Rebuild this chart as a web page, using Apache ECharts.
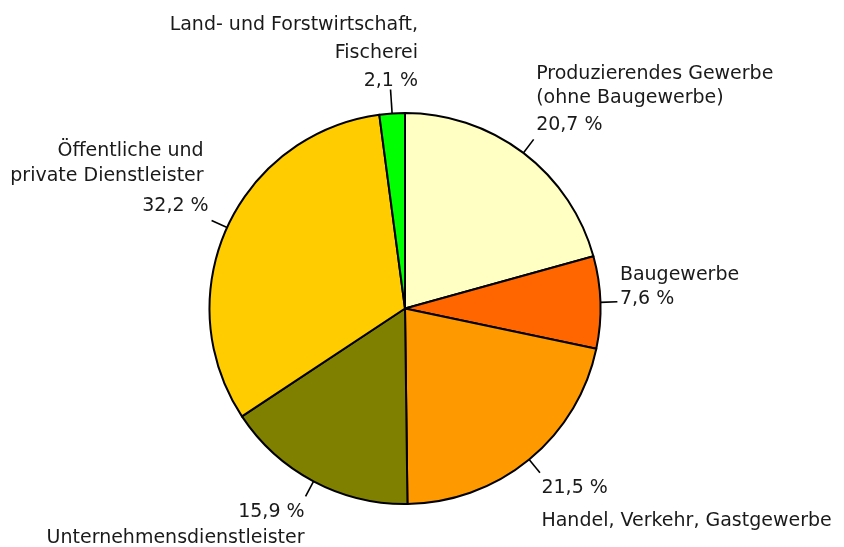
<!DOCTYPE html>
<html><head><meta charset="utf-8">
<script src="https://cdn.jsdelivr.net/npm/echarts@6/dist/echarts.min.js"></script>
<style>html,body{margin:0;padding:0;background:#fff}#c{width:844px;height:547px}</style>
</head><body><div id="c"></div>
<script>
// ---- data ----
const sectors = [
  'Produzierendes Gewerbe\n(ohne Baugewerbe)',
  'Baugewerbe',
  'Handel, Verkehr, Gastgewerbe',
  'Unternehmensdienstleister',
  'Öffentliche und\nprivate Dienstleister',
  'Land- und Forstwirtschaft,\nFischerei'
];
const shares = [20.7, 7.6, 21.5, 15.9, 32.2, 2.1];

// ---- styles ----
const colors = ['#FFFFC4', '#FF6600', '#FF9900', '#808000', '#FFCC00', '#00FF00'];
const labelStyles = [
  {align: 'left',  vAlign: 'bottom', dx: 2.5,  dy: 0, nameLH: 24, pctLH: 29, pctFirst: false, line: 17, namePad: 0},
  {align: 'left',  vAlign: 'bottom', dx: 2.5,  dy: 9, nameLH: 24, pctLH: 24, pctFirst: false, line: 17, namePad: 0},
  {align: 'left',  vAlign: 'top',    dx: 1.5,  dy: 3, nameLH: 42, pctLH: 24, pctFirst: true,  line: 17, namePad: 0},
  {align: 'right', vAlign: 'top',    dx: -1,   dy: 4, nameLH: 28, pctLH: 24, pctFirst: true,  line: 17, namePad: 0},
  {align: 'right', vAlign: 'bottom', dx: -3,   dy: 4, nameLH: 25, pctLH: 36, pctFirst: false, line: 17, namePad: 5},
  {align: 'right', vAlign: 'bottom', dx: 27.5, dy: 6, nameLH: 28, pctLH: 28, pctFirst: false, line: 24, namePad: 0}
];
const FONT = 'DejaVu Sans';
const TEXT = '#1a1a1a';

function fmtPct(v) { return v.toFixed(1).replace('.', ',') + ' %'; }

const data = sectors.map((name, i) => {
  const s = labelStyles[i];
  return {
    name: name,
    value: shares[i],
    itemStyle: {color: colors[i]},
    labelLine: {length: s.line},
    label: {
      rich: {
        n: {fontFamily: FONT, fontSize: 19, color: TEXT, lineHeight: s.nameLH, padding: [0, s.namePad, 0, 0]},
        p: {fontFamily: FONT, fontSize: 19, color: TEXT, lineHeight: s.pctLH}
      }
    }
  };
});

const chart = echarts.init(document.getElementById('c'), null, {renderer: 'canvas'});
chart.setOption({
  backgroundColor: '#ffffff',
  animation: false,
  series: [{
    type: 'pie',
    center: [405, 308.5],
    radius: [0, 195.5],
    startAngle: 90,
    clockwise: true,
    avoidLabelOverlap: false,
    data: data,
    itemStyle: {borderColor: '#000', borderWidth: 2},
    emphasis: {disabled: true},
    label: {
      show: true,
      position: 'outside',
      alignTo: 'none',
      overflow: 'none',
      fontFamily: FONT,
      fontSize: 19,
      color: TEXT,
      formatter: function (p) {
        const s = labelStyles[p.dataIndex];
        const nameLines = p.name.split('\n').map(t => '{n|' + t + '}');
        const pct = '{p|' + fmtPct(p.value) + '}';
        return (s.pctFirst ? [pct].concat(nameLines) : nameLines.concat([pct])).join('\n');
      }
    },
    labelLine: {show: true, length: 17, length2: 0, smooth: false, lineStyle: {color: '#000', width: 1.6}},
    labelLayout: function (p) {
      const s = labelStyles[p.dataIndex];
      const pts = p.labelLinePoints;
      const end = pts[pts.length - 1];
      return {
        x: end[0] + s.dx,
        y: end[1] + s.dy,
        align: s.align,
        verticalAlign: s.vAlign,
        labelLinePoints: pts
      };
    }
  }]
});
</script>
</body></html>
